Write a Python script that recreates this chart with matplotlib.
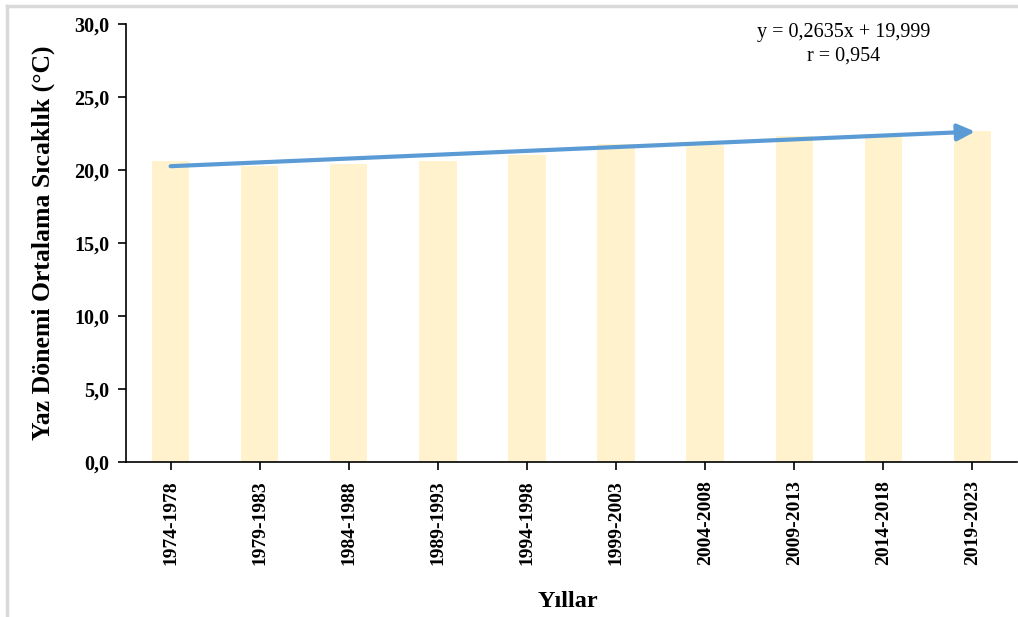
import matplotlib
matplotlib.use("Agg")
import matplotlib.pyplot as plt
from matplotlib.lines import Line2D
import numpy as np

categories = ["1974-1978", "1979-1983", "1984-1988", "1989-1993", "1994-1998",
              "1999-2003", "2004-2008", "2009-2013", "2014-2018", "2019-2023"]
values = [20.6, 20.3, 20.4, 20.6, 21.0, 21.8, 21.7, 22.3, 22.3, 22.7]
slope = 0.2635
intercept = 19.999
r_value = 0.954
yticks = [0, 5, 10, 15, 20, 25, 30]

plt.rcParams['font.family'] = ['Liberation Serif', 'DejaVu Serif']

fig = plt.figure(figsize=(10.18, 6.17), dpi=100)
ax = fig.add_axes([0.1238, 0.2512, 0.8752, 0.7098])

x = np.arange(len(categories))
ax.bar(x, values, width=0.42, color="#FFF2CC", zorder=1)

xs = np.array([1, len(categories)])
ys = slope * xs + intercept
ax.annotate("", xy=(xs[1] - 1 + 0.03, ys[1]), xytext=(xs[0] - 1, ys[0]),
            arrowprops=dict(arrowstyle="-|>,head_length=1.05,head_width=0.5",
                            mutation_scale=10,
                            color="#5B9BD5", lw=3.0, shrinkA=0, shrinkB=0),
            zorder=3)

ax.set_xlim(-0.5, len(categories) - 0.5)
ax.set_ylim(0, 30)
ax.set_yticks(yticks)
ax.set_yticklabels([f"{v:.1f}".replace(".", ",") for v in yticks],
                   fontsize=14.5, fontweight="bold")
ax.set_xticks(x)
ax.set_xticklabels(categories, rotation=90, fontsize=14, fontweight="bold")
ax.tick_params(axis="both", direction="out", length=6, width=1.2, color="black")
ax.tick_params(axis="y", pad=6)
ax.tick_params(axis="x", pad=7)

for s in ["top", "right"]:
    ax.spines[s].set_visible(False)
for s in ["left", "bottom"]:
    ax.spines[s].set_linewidth(1.2)

ax.set_ylabel("Yaz Dönemi Ortalama Sıcaklık (°C)", fontsize=18.5, fontweight="bold", labelpad=14)
fig.text(0.558, 0.025, "Yıllar", fontsize=17.5, fontweight="bold", ha="center", va="center")

eq = f"y = {slope:.4f}x + {intercept:.3f}".replace(".", ",")
fig.text(0.829, 0.947, eq, fontsize=14.5, ha="center", va="center")
fig.text(0.829, 0.909, f"r = {r_value:.3f}".replace(".", ","), fontsize=14.5, ha="center", va="center")

# light gray frame (left and top edges)
fig.add_artist(Line2D([0.0065, 0.0065], [0, 0.991], transform=fig.transFigure, color="#D9D9D9", lw=2.5))
fig.add_artist(Line2D([0.0065, 1.0], [0.991, 0.991], transform=fig.transFigure, color="#D9D9D9", lw=2.5))

fig.savefig("out.png", dpi=100)
